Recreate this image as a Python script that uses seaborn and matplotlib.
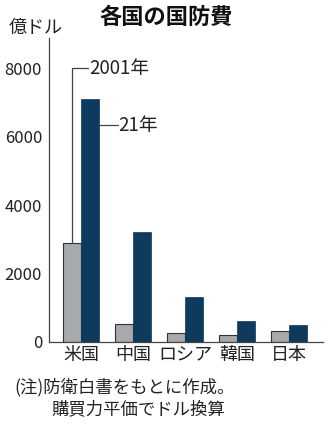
import matplotlib
matplotlib.use("Agg")
import matplotlib.pyplot as plt
import seaborn as sns
import pandas as pd

countries = ["米国", "中国", "ロシア", "韓国", "日本"]
years = ["2001年", "21年"]
v2001 = [2890, 520, 255, 200, 315]
v2021 = [7110, 3225, 1305, 605, 490]
yticks = [0, 2000, 4000, 6000, 8000]

sns.set_theme(style="white")
plt.rcParams["font.family"] = ["Noto Sans CJK JP", "DejaVu Sans"]

df = pd.DataFrame({
    "country": countries * 2,
    "year": [years[0]] * len(countries) + [years[1]] * len(countries),
    "value": v2001 + v2021,
})

fig = plt.figure(figsize=(3.34, 4.24), dpi=100)
ax = fig.add_axes([0.1467, 0.1934, 0.8204, 0.717])

gray = "#a8a9ad"
navy = "#0e3a5e"
sns.barplot(data=df, x="country", y="value", hue="year", order=countries,
            hue_order=years, palette=[gray, navy], width=0.68, gap=0,
            legend=False, ax=ax, saturation=1)

for p in ax.patches:
    fc = p.get_facecolor()
    if abs(fc[0] - 0.66) < 0.05:
        p.set_edgecolor("#333333")
        p.set_linewidth(0.8)
    else:
        p.set_edgecolor(navy)
        p.set_linewidth(0.5)

ax.set_ylim(0, 8890)
ax.set_xlim(-0.615, 4.65)
ax.set_yticks(yticks)
ax.set_yticklabels([str(t) for t in yticks], fontsize=12, color="#222222")
ax.tick_params(axis="y", direction="out", length=4, width=0.8, color="#333333", pad=1)
ax.tick_params(axis="x", length=0, pad=3, labelsize=13, labelcolor="#222222")
ax.set_xlabel("")
ax.set_ylabel("")
for s in ["top", "right"]:
    ax.spines[s].set_visible(False)
for s in ["left", "bottom"]:
    ax.spines[s].set_color("#444444")
    ax.spines[s].set_linewidth(0.9)

# leader lines for legend labels
bw = 0.34
x_g = -bw / 2
ax.plot([x_g, x_g, 0.135], [v2001[0], 8000, 8000], color="#444444", lw=0.9, clip_on=False)
ax.text(0.15, 8000, years[0], fontsize=13.5, va="center", ha="left", color="#222222")
ax.plot([bw, 0.71], [6345, 6345], color="#444444", lw=0.9, clip_on=False)
ax.text(0.72, 6345, years[1], fontsize=13.5, va="center", ha="left", color="#222222")

fig.text(0.497, 0.958, "各国の国防費", fontsize=16, fontweight="bold",
         ha="center", va="center", color="#111111")
fig.text(0.025, 0.933, "億ドル", fontsize=13, ha="left", va="center", color="#222222")
fig.text(0.042, 0.086, "(注)防衛白書をもとに作成。", fontsize=12.5, ha="left", va="center", color="#222222")
fig.text(0.153, 0.036, "購買力平価でドル換算", fontsize=12.5, ha="left", va="center", color="#222222")

fig.savefig("out.png", dpi=100)
